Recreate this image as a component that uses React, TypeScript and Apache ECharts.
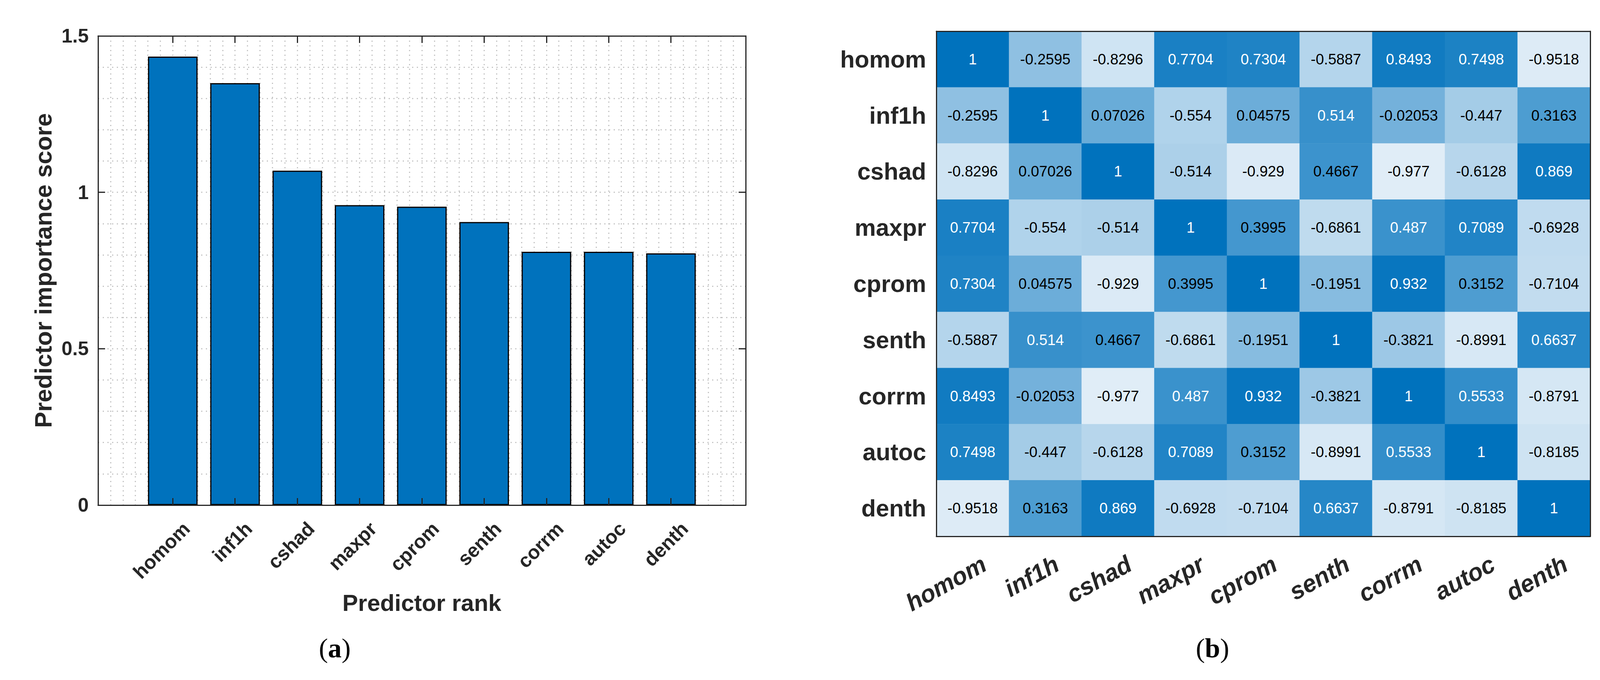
import React, { useEffect, useRef } from "react";
import * as echarts from "echarts";

const categories = ["homom", "inf1h", "cshad", "maxpr", "cprom", "senth", "corrm", "autoc", "denth"];
const importance = [1.434, 1.349, 1.069, 0.959, 0.954, 0.905, 0.81, 0.81, 0.805];
const yTickValues = [0, 0.5, 1, 1.5];

const rowHomom = [1, -0.2595, -0.8296, 0.7704, 0.7304, -0.5887, 0.8493, 0.7498, -0.9518];
const rowInf1h = [-0.2595, 1, 0.07026, -0.554, 0.04575, 0.514, -0.02053, -0.447, 0.3163];
const rowCshad = [-0.8296, 0.07026, 1, -0.514, -0.929, 0.4667, -0.977, -0.6128, 0.869];
const rowMaxpr = [0.7704, -0.554, -0.514, 1, 0.3995, -0.6861, 0.487, 0.7089, -0.6928];
const rowCprom = [0.7304, 0.04575, -0.929, 0.3995, 1, -0.1951, 0.932, 0.3152, -0.7104];
const rowSenth = [-0.5887, 0.514, 0.4667, -0.6861, -0.1951, 1, -0.3821, -0.8991, 0.6637];
const rowCorrm = [0.8493, -0.02053, -0.977, 0.487, 0.932, -0.3821, 1, 0.5533, -0.8791];
const rowAutoc = [0.7498, -0.447, -0.6128, 0.7089, 0.3152, -0.8991, 0.5533, 1, -0.8185];
const rowDenth = [-0.9518, 0.3163, 0.869, -0.6928, -0.7104, 0.6637, -0.8791, -0.8185, 1];
const corrRows = [rowHomom, rowInf1h, rowCshad, rowMaxpr, rowCprom, rowSenth, rowCorrm, rowAutoc, rowDenth];

const FONT = "'Liberation Sans', Arial, Helvetica, sans-serif";
const SERIF = "'Liberation Serif', 'DejaVu Serif', serif";
const DARK = "#262626";
const LABEL_SHIFT_BAR = 0.22;
const LABEL_SHIFT_HEAT = 0.16;

export default function App() {
  const ref = useRef<HTMLDivElement>(null);

  useEffect(() => {
    if (!ref.current) return;
    const chart = echarts.init(ref.current, null, { renderer: "svg" });

    const axisLine = { show: true, onZero: false, lineStyle: { color: DARK, width: 3 } };
    const gridLine = { show: true, lineStyle: { color: "#c4c4c4", width: 3, type: [3, 9] as any } };
    const tickStyle = { color: DARK, width: 3 };
    const barTicks = categories.map((_, i) => i + 1);

    const minV = Math.min(...corrRows.flat());
    const maxV = Math.max(...corrRows.flat());

    const heatData: any[] = [];
    corrRows.forEach((row, r) => {
      row.forEach((v, c) => {
        heatData.push({
          value: [c, r, v],
          label: { color: v > 0.48 ? "#ffffff" : "#000000" },
        });
      });
    });

    const hidden = {
      axisLine: { show: false },
      axisTick: { show: false },
      axisLabel: { show: false },
    };

    const captionRich = {
      p: { fontSize: 70, fontFamily: SERIF, fill: "#000000", color: "#000000" },
      b: { fontSize: 70, fontFamily: SERIF, fontWeight: "bold", fill: "#000000", color: "#000000" },
    };

    const option: any = {
      animation: false,
      backgroundColor: "#ffffff",
      textStyle: { fontFamily: FONT },
      grid: [
        { left: 251, top: 92, width: 1658, height: 1202 },
        { left: 2397, top: 80, width: 1674, height: 1294 },
      ],
      xAxis: [
        {
          gridIndex: 0,
          type: "value",
          position: "bottom",
          min: -0.2,
          max: 10.2,
          interval: 0.2,
          z: 5,
          axisLine,
          axisTick: { show: true, inside: true, length: 18, customValues: barTicks, lineStyle: tickStyle },
          axisLabel: {
            customValues: categories.map((_, i) => i + 1 + LABEL_SHIFT_BAR),
            formatter: (v: number) => categories[Math.round(v - LABEL_SHIFT_BAR) - 1] ?? "",
            rotate: 45,
            margin: 52,
            fontSize: 50,
            fontWeight: "bold",
            color: DARK,
            fontFamily: FONT,
          },
          splitLine: { show: false },
          name: "Predictor rank",
          nameLocation: "middle",
          nameGap: 220,
          nameTextStyle: { fontSize: 60, fontWeight: "bold", color: DARK, fontFamily: FONT },
        },
        {
          gridIndex: 0,
          type: "value",
          position: "top",
          min: -0.2,
          max: 10.2,
          interval: 0.2,
          z: 5,
          axisLine,
          axisTick: { show: true, inside: true, length: 18, customValues: barTicks, lineStyle: tickStyle },
          axisLabel: { show: false },
          splitLine: { show: false },
        },
        {
          gridIndex: 1,
          type: "category",
          position: "top",
          data: categories,
          z: 10,
          axisLine,
          axisTick: { show: false },
          axisLabel: { show: false },
          splitLine: { show: false },
        },
        {
          gridIndex: 1,
          type: "value",
          position: "bottom",
          min: 0,
          max: 9,
          z: 10,
          axisLine,
          axisTick: { show: false },
          splitLine: { show: false },
          axisLabel: {
            customValues: categories.map((_, i) => i + 0.5 + LABEL_SHIFT_HEAT),
            formatter: (v: number) => categories[Math.round(v - 0.5 - LABEL_SHIFT_HEAT)] ?? "",
            rotate: 29,
            margin: 66,
            fontSize: 62,
            fontWeight: "bold",
            fontStyle: "italic",
            color: DARK,
            fontFamily: FONT,
          },
        },
        {
          gridIndex: 0,
          type: "value",
          position: "bottom",
          min: -0.2,
          max: 10.2,
          interval: 0.2,
          z: 0,
          ...hidden,
          splitLine: gridLine,
        },
      ],
      yAxis: [
        {
          gridIndex: 0,
          type: "value",
          position: "left",
          min: 0,
          max: 1.5,
          interval: 0.1,
          z: 5,
          axisLine,
          axisTick: { show: true, inside: true, length: 18, customValues: yTickValues, lineStyle: tickStyle },
          axisLabel: {
            customValues: yTickValues,
            formatter: (v: number) => String(v),
            margin: 24,
            fontSize: 50,
            fontWeight: "bold",
            color: DARK,
            fontFamily: FONT,
          },
          splitLine: { show: false },
          name: "Predictor importance score",
          nameLocation: "middle",
          nameGap: 110,
          nameTextStyle: { fontSize: 62, fontWeight: "bold", color: DARK, fontFamily: FONT },
        },
        {
          gridIndex: 0,
          type: "value",
          position: "right",
          min: 0,
          max: 1.5,
          interval: 0.5,
          z: 5,
          axisLine,
          axisTick: { show: true, inside: true, length: 18, customValues: yTickValues, lineStyle: tickStyle },
          axisLabel: { show: false },
          splitLine: { show: false },
        },
        {
          gridIndex: 1,
          type: "category",
          position: "left",
          inverse: true,
          data: categories,
          z: 10,
          axisLine,
          axisTick: { show: false },
          axisLabel: { margin: 26, fontSize: 61, fontWeight: "bold", color: DARK, fontFamily: FONT },
          splitLine: { show: false },
        },
        {
          gridIndex: 1,
          type: "category",
          position: "right",
          inverse: true,
          data: categories,
          z: 10,
          axisLine,
          axisTick: { show: false },
          axisLabel: { show: false },
          splitLine: { show: false },
        },
        {
          gridIndex: 0,
          type: "value",
          position: "left",
          min: 0,
          max: 1.5,
          interval: 0.1,
          z: 0,
          ...hidden,
          splitLine: gridLine,
        },
      ],
      visualMap: {
        type: "continuous",
        show: false,
        seriesIndex: 1,
        dimension: 2,
        min: minV,
        max: maxV,
        inRange: { color: ["#E0EDF7", "#0072BD"] },
      },
      series: [
        {
          type: "bar",
          xAxisIndex: 0,
          yAxisIndex: 0,
          barWidth: 127,
          data: importance.map((v, i) => [i + 1, v]),
          itemStyle: { color: "#0072BD", borderColor: "#000000", borderWidth: 3 },
          emphasis: { disabled: true },
        },
        {
          type: "heatmap",
          xAxisIndex: 2,
          yAxisIndex: 2,
          data: heatData,
          label: {
            show: true,
            fontSize: 38,
            fontFamily: FONT,
            formatter: (p: any) => String(p.value[2]),
          },
          emphasis: { disabled: true },
        },
      ],
      graphic: [
        {
          type: "text",
          x: 857,
          y: 1660,
          style: {
            text: "{p|(}{b|a}{p|)}",
            rich: captionRich,
            fontSize: 70,
            fontFamily: SERIF,
            fill: "#000000",
            align: "center",
            verticalAlign: "middle",
          },
        },
        {
          type: "text",
          x: 3104,
          y: 1660,
          style: {
            text: "{p|(}{b|b}{p|)}",
            rich: captionRich,
            fontSize: 70,
            fontFamily: SERIF,
            fill: "#000000",
            align: "center",
            verticalAlign: "middle",
          },
        },
      ],
    };

    chart.setOption(option);
    return () => chart.dispose();
  }, []);

  return (
    <div
      ref={ref}
      style={{ position: "fixed", left: 0, top: 0, width: 4107, height: 1742, background: "#ffffff" }}
    />
  );
}
